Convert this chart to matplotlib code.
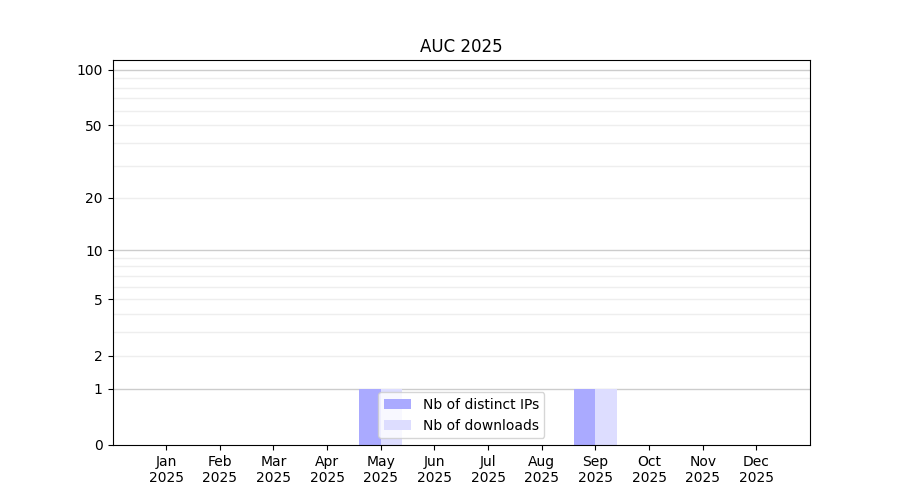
import numpy as np
import matplotlib
matplotlib.use("Agg")
import matplotlib.pyplot as plt

months = ["Jan", "Feb", "Mar", "Apr", "May", "Jun", "Jul", "Aug", "Sep", "Oct", "Nov", "Dec"]
tick_labels = [f"{m}\n2025" for m in months]
distinct_ips = [0, 0, 0, 0, 1, 0, 0, 0, 1, 0, 0, 0]
downloads = [0, 0, 0, 0, 1, 0, 0, 0, 1, 0, 0, 0]
yticks = [0, 1, 2, 5, 10, 20, 50, 100]
major_grid = [1, 10, 100]
minor_grid = [2, 3, 4, 5, 6, 7, 8, 9, 20, 30, 40, 50, 60, 70, 80, 90]

fig, ax = plt.subplots(figsize=(9, 5), dpi=100)
ax.set_yscale("function", functions=(lambda v: np.log10(1 + np.clip(v, 0, None)),
                                     lambda v: 10 ** v - 1))
x = np.arange(len(months))
w = 0.4
for g in minor_grid:
    ax.axhline(g, color="#eeeeee", linewidth=1, zorder=0)
for g in major_grid:
    ax.axhline(g, color="#cccccc", linewidth=1, zorder=0.5)
ax.bar(x - w, distinct_ips, width=w, align="edge", color="#aaaaff", label="Nb of distinct IPs", zorder=2)
ax.bar(x, downloads, width=w, align="edge", color="#ddddff", label="Nb of downloads", zorder=2)

ax.set_xticks(x)
ax.set_xticklabels(tick_labels)
ax.set_xlim(-1, 12)
ax.set_ylim(0, 113)
ax.set_yticks(yticks)
ax.set_yticklabels([str(t) for t in yticks])
ax.minorticks_off()
ax.set_title("AUC 2025")
ax.legend(loc="lower center")
fig.savefig("out.png")
